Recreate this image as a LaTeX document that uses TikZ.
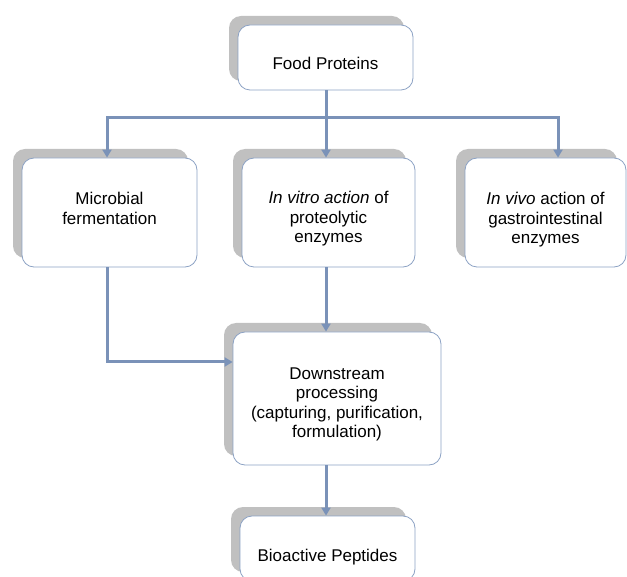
\documentclass[tikz,border=0pt]{standalone}
\usepackage{fontspec}
\setmainfont{Liberation Sans}
\usetikzlibrary{arrows.meta,shadows}
\definecolor{linecol}{RGB}{122,146,184}
\definecolor{edgecol}{RGB}{140,162,196}
\definecolor{shadecol}{RGB}{192,192,192}
\newcommand\bxt[2]{\raisebox{#1}[\height][\depth]{\begin{tabular}{@{}c@{}}#2\end{tabular}}}
\begin{document}
\begin{tikzpicture}[x=1pt,y=-1pt,
  box/.style={draw=edgecol,line width=0.8pt,fill=white,rounded corners=12pt,inner sep=0pt,
    drop shadow={shadow xshift=-9pt,shadow yshift=9pt,opacity=1,fill=shadecol},
    font=\fontsize{17}{19.5}\selectfont},
  conn/.style={draw=linecol,line width=3pt},
  arr/.style={conn,-{Triangle[width=9pt,length=8pt]}}]
\clip (0,0) rectangle (627,577);
\node[box,minimum width=175pt,minimum height=65pt] (top) at (325.5,57.5) {\bxt{-8.5pt}{Food Proteins}};
\node[box,minimum width=175pt,minimum height=109pt] (mic) at (109.5,212.5) {\bxt{2pt}{Microbial\\fermentation}};
\node[box,minimum width=173pt,minimum height=109pt] (vit) at (328.5,212.5) {\bxt{-7pt}{\textit{In vitro action} of\\proteolytic\\enzymes}};
\node[box,minimum width=161pt,minimum height=109pt] (viv) at (545.5,212.5) {\bxt{-8pt}{\textit{In vivo} action of\\gastrointestinal\\enzymes}};
\node[box,minimum width=208pt,minimum height=133pt] (ds) at (337,398.5) {\bxt{-6pt}{Downstream\\processing\\(capturing, purification,\\formulation)}};
\node[box,minimum width=175pt,minimum height=65pt] (bio) at (327.5,548.5) {\bxt{-9pt}{Bioactive Peptides}};
\coordinate (j) at (326,118);
\coordinate (jl) at (107,118);
\coordinate (jr) at (558,118);
\draw[arr] (top.south -| j) -- (j |- vit.north);
\draw[arr] (j) -| (jl |- mic.north);
\draw[arr] (j) -| (jr |- viv.north);
\draw[arr] (mic.south -| jl) |- ([yshift=36.5pt]ds.west);
\draw[arr] (vit.south -| j) -- (j |- ds.north);
\draw[arr] (ds.south -| j) -- (j |- bio.north);
\end{tikzpicture}
\end{document}
